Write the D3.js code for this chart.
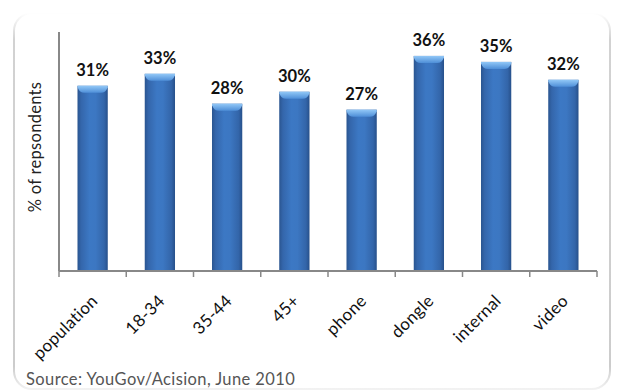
<!DOCTYPE html>
<html>
<head>
<meta charset="utf-8">
<script src="https://cdn.jsdelivr.net/npm/d3@7"></script>
<style>
  html, body { margin: 0; padding: 0; background: #fff; }
  svg { display: block; }
</style>
</head>
<body>
<svg id="chart" width="617" height="392"></svg>
<script>
// Survey results: share of respondents per group
const categories = ["population", "18-34", "35-44", "45+", "phone", "dongle", "internal", "video"];
const values = [31, 33, 28, 30, 27, 36, 35, 32];
const yDomain = [0, 40];
const yTitle = "% of repsondents";
const sourceNote = "Source: YouGov/Acision, June 2010";

const svg = d3.select("#chart");
const W = 617, H = 392;
const margin = { left: 59, right: 20, top: 32, bottom: 121 };
const plotW = W - margin.left - margin.right;   // 538
const plotH = H - margin.top - margin.bottom;   // 239
const FONT = "Lato, 'Open Sans', sans-serif";

const defs = svg.append("defs");

// Frame stroke: visible on the sides, fading out at the top
const fg = defs.append("linearGradient").attr("id", "frameGrad")
  .attr("x1", 0).attr("y1", 0).attr("x2", 0).attr("y2", 1);
fg.append("stop").attr("offset", "0%").attr("stop-color", "#ffffff");
fg.append("stop").attr("offset", "7%").attr("stop-color", "#d2d2d2");
fg.append("stop").attr("offset", "94%").attr("stop-color", "#cccccc");
fg.append("stop").attr("offset", "100%").attr("stop-color", "#f2f2f2");

svg.append("rect")
  .attr("x", 14).attr("y", 13).attr("width", 596).attr("height", 376)
  .attr("rx", 18).attr("ry", 18)
  .attr("fill", "#fff")
  .attr("stroke", "url(#frameGrad)")
  .attr("stroke-width", 2);

// Bar body: cylindrical shading across the width
const bg = defs.append("linearGradient").attr("id", "barGrad")
  .attr("x1", 0).attr("y1", 0).attr("x2", 1).attr("y2", 0);
[["0%", "#2a5590"], ["12%", "#3466ab"], ["40%", "#3c78c4"], ["60%", "#3c77c2"], ["88%", "#3365a9"], ["100%", "#27508a"]]
  .forEach(([o, c]) => bg.append("stop").attr("offset", o).attr("stop-color", c));

// Bevelled top cap
const cg = defs.append("linearGradient").attr("id", "capGrad")
  .attr("x1", 0).attr("y1", 0).attr("x2", 0).attr("y2", 1);
cg.append("stop").attr("offset", "0%").attr("stop-color", "#92c8f7");
cg.append("stop").attr("offset", "100%").attr("stop-color", "#4f8fd8");

const g = svg.append("g").attr("transform", `translate(${margin.left},${margin.top})`);

const x = d3.scaleBand().domain(categories).range([0, plotW]).paddingInner(0.55).paddingOuter(0.275);
const y = d3.scaleLinear().domain(yDomain).range([plotH, 0]);

const data = categories.map((c, i) => ({ cat: c, val: values[i] }));

const bars = g.selectAll("g.bar").data(data).join("g").attr("class", "bar");

bars.append("rect")
  .attr("x", d => x(d.cat))
  .attr("y", d => y(d.val))
  .attr("width", x.bandwidth())
  .attr("height", d => y(0) - y(d.val))
  .attr("fill", "url(#barGrad)");

// top cap: a shallow lighter band with a curved lower edge
bars.append("path")
  .attr("d", d => {
    const x0 = x(d.cat), w = x.bandwidth(), t = y(d.val);
    return `M${x0},${t} L${x0 + w},${t} L${x0 + w},${t + 1.5}` +
      ` Q${x0 + w - 2},${t + 7} ${x0 + w - 7},${t + 7}` +
      ` L${x0 + 7},${t + 7} Q${x0 + 2},${t + 7} ${x0},${t + 1.5} Z`;
  })
  .attr("fill", "url(#capGrad)");

// value labels
bars.append("text")
  .attr("x", d => x(d.cat) + x.bandwidth() / 2)
  .attr("y", d => y(d.val) - 10)
  .attr("text-anchor", "middle")
  .attr("font-family", FONT)
  .attr("font-weight", "bold")
  .attr("font-size", 16.5)
  .attr("fill", "#111")
  .text(d => d.val + "%");

// y axis: plain line
g.append("line")
  .attr("x1", 0).attr("x2", 0).attr("y1", 0).attr("y2", plotH)
  .attr("stroke", "#888").attr("stroke-width", 2);

// x axis with ticks at band edges
const edges = categories.map(c => x(c) - x.step() * x.paddingInner() / 2).concat([plotW]);
const xAxis = g.append("g").attr("transform", `translate(0,${plotH})`);
xAxis.append("line").attr("x1", 0).attr("x2", plotW).attr("stroke", "#888").attr("stroke-width", 2);
xAxis.selectAll("line.tick").data(edges).join("line").attr("class", "tick")
  .attr("x1", d => d).attr("x2", d => d).attr("y1", 0).attr("y2", 6)
  .attr("stroke", "#888").attr("stroke-width", 1.5);

xAxis.selectAll("text").data(categories).join("text")
  .attr("transform", d => `translate(${x(d) + x.bandwidth() / 2 + 6},${31}) rotate(-45)`)
  .attr("text-anchor", "end")
  .attr("font-family", FONT)
  .attr("font-size", 17)
  .attr("letter-spacing", 0.3)
  .attr("fill", "#111")
  .text(d => d);

// y title
svg.append("text")
  .attr("transform", `translate(41,${margin.top + 115}) rotate(-90)`)
  .attr("text-anchor", "middle")
  .attr("font-family", FONT)
  .attr("font-size", 16.5)
  .attr("letter-spacing", 0.3)
  .attr("fill", "#222")
  .text(yTitle);

// source note
svg.append("text")
  .attr("x", 26).attr("y", 385)
  .attr("font-family", FONT)
  .attr("font-size", 16.5)
  .attr("letter-spacing", 0.4)
  .attr("fill", "#555")
  .text(sourceNote);
</script>
</body>
</html>
